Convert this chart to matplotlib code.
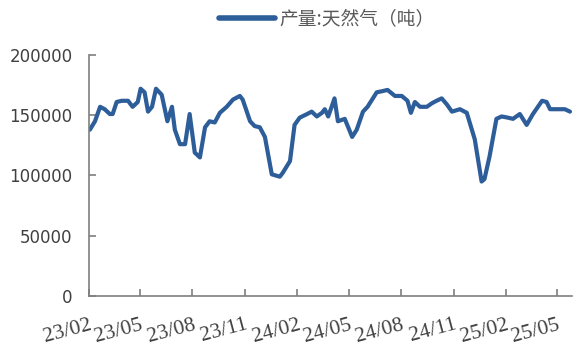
import matplotlib
matplotlib.use("Agg")
import matplotlib.pyplot as plt
import matplotlib.dates as mdates
import pandas as pd

plt.rcParams['font.family'] = ['Noto Sans CJK SC', 'DejaVu Sans']

series_name = "产量:天然气（吨）"

dates = [
    "2023-02-02", "2023-02-11", "2023-02-20", "2023-02-28", "2023-03-09", "2023-03-14",
    "2023-03-21", "2023-03-30", "2023-04-10", "2023-04-18", "2023-04-27", "2023-05-02",
    "2023-05-09", "2023-05-15", "2023-05-22", "2023-05-29", "2023-06-08", "2023-06-18",
    "2023-06-26", "2023-07-01", "2023-07-10", "2023-07-19", "2023-07-27", "2023-08-05",
    "2023-08-14", "2023-08-23", "2023-08-31", "2023-09-09", "2023-09-18", "2023-09-30",
    "2023-10-11", "2023-10-23", "2023-10-28", "2023-11-10", "2023-11-18", "2023-11-27",
    "2023-12-06", "2023-12-18", "2024-01-01", "2024-01-06", "2024-01-19", "2024-01-27",
    "2024-02-05", "2024-02-18", "2024-02-26", "2024-03-06", "2024-03-15", "2024-03-20",
    "2024-03-26", "2024-04-01", "2024-04-06", "2024-04-12", "2024-04-24", "2024-05-07",
    "2024-05-15", "2024-05-26", "2024-06-03", "2024-06-19", "2024-06-29", "2024-07-08",
    "2024-07-21", "2024-08-02", "2024-08-12", "2024-08-18", "2024-08-25", "2024-09-03",
    "2024-09-15", "2024-09-24", "2024-10-02", "2024-10-11", "2024-10-20", "2024-10-29",
    "2024-11-12", "2024-11-24", "2024-12-08", "2024-12-20", "2024-12-25", "2025-01-03",
    "2025-01-15", "2025-01-24", "2025-02-04", "2025-02-13", "2025-02-25", "2025-03-09",
    "2025-03-20", "2025-04-05", "2025-04-13", "2025-04-19", "2025-05-01", "2025-05-15",
    "2025-05-24",
]

values = [
    138000, 145000, 157000, 155000, 151000, 151000,
    161000, 162000, 162000, 157000, 161000, 172000,
    169000, 153000, 157000, 172000, 167000, 145000,
    157000, 138000, 126000, 126000, 151000, 119000,
    115000, 140000, 145000, 144000, 152000, 157000,
    163000, 166000, 163000, 145000, 141000, 140000,
    132000, 101000, 99000, 102000, 112000, 142000,
    148000, 151000, 153000, 149000, 152000, 155000,
    149000, 157000, 164000, 145000, 147000, 132000,
    138000, 153000, 157000, 169000, 170000, 171000,
    166000, 166000, 162000, 152000, 161000, 157000,
    157000, 160000, 162000, 164000, 159000, 153000,
    155000, 152000, 130000, 95000, 97000, 116000,
    147000, 149000, 148000, 147000, 151000, 142000,
    151000, 162000, 161000, 155000, 155000, 155000,
    153000,
]

y_ticks = [0, 50000, 100000, 150000, 200000]
x_range = ("2023-02-01", "2025-05-27")

line_color = "#2E5E99"
axis_color = "#7F7F7F"
text_color = "#404040"
legend_text_color = "#595959"

x = pd.to_datetime(dates)

fig = plt.figure(figsize=(5.79, 3.48), dpi=100)
ax = fig.add_axes([0.1542, 0.1494, 0.8332, 0.6926])

ax.plot(x, values, color=line_color, linewidth=3.0, label=series_name,
        solid_joinstyle='round', solid_capstyle='round')

ax.set_ylim(0, 200000)
ax.set_yticks(y_ticks)
ax.set_yticklabels([str(v) for v in y_ticks], fontfamily='DejaVu Sans', fontsize=12, color=text_color)

ax.set_xlim(pd.Timestamp(x_range[0]), pd.Timestamp(x_range[1]))
ax.xaxis.set_major_locator(mdates.MonthLocator(bymonth=[2, 5, 8, 11]))
ax.xaxis.set_major_formatter(mdates.DateFormatter('%y/%m'))
for lab in ax.get_xticklabels():
    lab.set_fontfamily('Liberation Serif')
    lab.set_fontsize(15.5)
    lab.set_rotation(15)
    lab.set_ha('right')
    lab.set_rotation_mode('anchor')
    lab.set_color(text_color)

ax.tick_params(axis='both', direction='in', colors=axis_color, length=5, width=1.2)
ax.tick_params(axis='x', pad=14, labelcolor=text_color)
ax.tick_params(axis='y', pad=12, labelcolor=text_color)

for side in ['top', 'right']:
    ax.spines[side].set_visible(False)
for side in ['left', 'bottom']:
    ax.spines[side].set_color(axis_color)
    ax.spines[side].set_linewidth(1.2)

leg = fig.legend(loc='center', bbox_to_anchor=(0.564, 0.945), frameon=False,
                 handlelength=3.0, handletextpad=0.2,
                 prop={'family': ['Noto Sans CJK SC', 'DejaVu Sans'], 'size': 13.5})
for t in leg.get_texts():
    t.set_color(legend_text_color)
for h in leg.get_lines():
    h.set_linewidth(4)

fig.savefig('out.png', dpi=100)
